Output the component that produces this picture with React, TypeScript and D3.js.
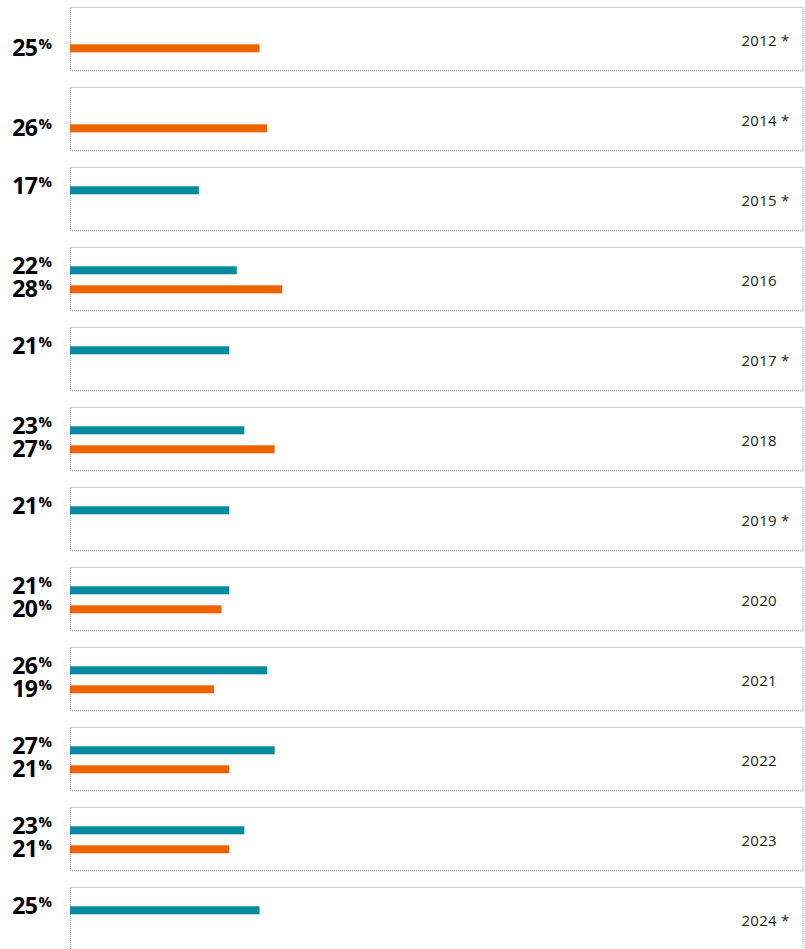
import React from "react";
import * as d3 from "d3";

const years = ["2012", "2014", "2015", "2016", "2017", "2018", "2019", "2020", "2021", "2022", "2023", "2024"];
const starred = [true, true, true, false, true, false, true, false, false, false, false, true];
const tealValues: (number | null)[] = [null, null, 17, 22, 21, 23, 21, 21, 26, 27, 23, 25];
const orangeValues: (number | null)[] = [25, 26, null, 28, null, 27, null, 20, 19, 21, 21, null];

const W = 805;
const H = 949;
const TEAL = "#008b9e";
const ORANGE = "#ee6300";
const FONT = "'Open Sans', 'Noto Sans', sans-serif";

export default function App() {
  const x = d3.scaleLinear().domain([0, 100]).range([70, 828]);
  const y = d3
    .scaleBand<string>()
    .domain(years)
    .range([7.3, 7.3 + 80 * years.length])
    .paddingInner(0);
  const panelH = 63.4;
  const barH = 8;

  const label = (v: number, yb: number) => (
    <text x={52} y={yb} textAnchor="end" fontFamily={FONT} fill="#000">
      <tspan fontSize={23} fontWeight={700} letterSpacing={-0.8}>{v}</tspan>
      <tspan fontSize={15} fontWeight={700} dx={1.5} dy={-7}>%</tspan>
    </text>
  );

  return (
    <svg
      width={W}
      height={H}
      style={{ position: "absolute", left: 0, top: 0, background: "#fff" }}
    >
      {years.map((yr, i) => {
        const top = y(yr)!;
        const t = tealValues[i];
        const o = orangeValues[i];
        const orangeOff = t == null ? 37 : 38;
        return (
          <g key={yr}>
            <rect
              x={70.5}
              y={top}
              width={803 - 70.5}
              height={panelH}
              fill="none"
              stroke="#8c8c8c"
              strokeWidth={1}
              strokeDasharray="1 1"
            />
            {t != null && (
              <rect x={x(0)} y={top + 19} width={x(t) - x(0)} height={barH} fill={TEAL} />
            )}
            {o != null && (
              <rect x={x(0)} y={top + orangeOff} width={x(o) - x(0)} height={barH} fill={ORANGE} />
            )}
            {t != null && label(t, top + 27)}
            {o != null && label(o, top + (t == null ? 49 : 50))}
            <text
              x={777}
              y={top + 39}
              textAnchor="end"
              fontFamily={FONT}
              fontSize={15}
              letterSpacing={0.3}
              fill="#222"
            >
              {yr}
            </text>
            {starred[i] && (
              <text x={781} y={top + 39} fontFamily={FONT} fontSize={15} fill="#222">
                *
              </text>
            )}
          </g>
        );
      })}
    </svg>
  );
}
